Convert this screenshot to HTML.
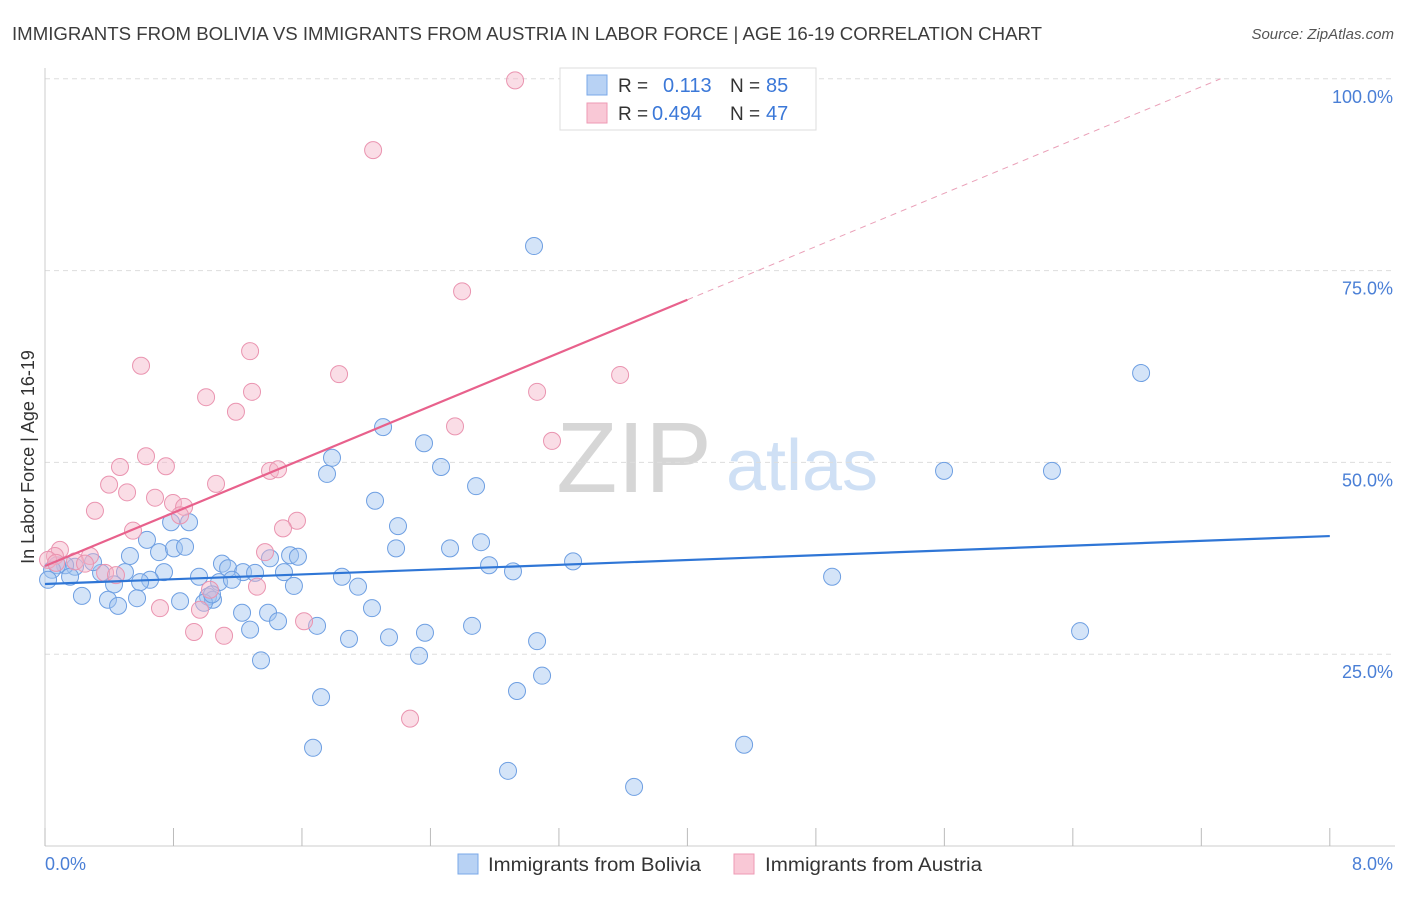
<!DOCTYPE html>
<html><head><meta charset="utf-8"><style>
body{margin:0;background:#fff;font-family:"Liberation Sans",sans-serif;}
svg text{font-family:"Liberation Sans",sans-serif;}
</style></head><body>
<svg id="chart" width="1406" height="892">
<text x="12" y="40" font-size="18" fill="#3c3c3c" textLength="1030" lengthAdjust="spacingAndGlyphs">IMMIGRANTS FROM BOLIVIA VS IMMIGRANTS FROM AUSTRIA IN LABOR FORCE | AGE 16-19 CORRELATION CHART</text>
<text x="1394" y="39" font-size="15" fill="#555" font-style="italic" text-anchor="end">Source: ZipAtlas.com</text>
<text x="634" y="492" font-size="100" fill="#d6d6d6" font-family="Liberation Serif" text-anchor="middle">ZIP</text>
<text x="802" y="490" font-size="72" fill="#cfe0f5" text-anchor="middle">atlas</text>
<g id="grid"></g><g id="pts"></g><g id="lines"></g>
<text x="34" y="457" font-size="18" fill="#333" transform="rotate(-90 34 457)" text-anchor="middle">In Labor Force | Age 16-19</text>
<text x="45" y="870" font-size="18" fill="#4a7fd6">0.0%</text>
<text x="1393" y="870" font-size="18" fill="#4a7fd6" text-anchor="end">8.0%</text>
<g>
<rect x="560" y="68" width="256" height="62" fill="#fff" stroke="#ddd"/>
<rect x="587" y="75" width="20" height="20" fill="#b8d2f4" stroke="#7aa8e8"/>
<rect x="587" y="103" width="20" height="20" fill="#f9c8d6" stroke="#ee9ab4"/>
<text x="618" y="92" font-size="19" fill="#333">R =</text>
<text x="663" y="92" font-size="20" fill="#3b78d8">0.113</text>
<text x="730" y="92" font-size="19" fill="#333">N =</text>
<text x="766" y="92" font-size="20" fill="#3b78d8">85</text>
<text x="618" y="120" font-size="19" fill="#333">R =</text>
<text x="652" y="120" font-size="20" fill="#3b78d8">0.494</text>
<text x="730" y="120" font-size="19" fill="#333">N =</text>
<text x="766" y="120" font-size="20" fill="#3b78d8">47</text>
</g>
<g>
<rect x="458" y="854" width="20" height="20" fill="#b8d2f4" stroke="#7aa8e8"/>
<text x="488" y="871" font-size="19" fill="#333" textLength="213" lengthAdjust="spacingAndGlyphs">Immigrants from Bolivia</text>
<rect x="734" y="854" width="20" height="20" fill="#f9c8d6" stroke="#ee9ab4"/>
<text x="765" y="871" font-size="19" fill="#333" textLength="217" lengthAdjust="spacingAndGlyphs">Immigrants from Austria</text>
</g>
</svg>
<script>
const yTicks=[25,50,75,100];
const blueX=[3.045,6.825,2.105,2.36,1.787,2.466,1.756,2.684,5.598,6.27,2.055,2.198,0.897,0.785,0.635,0.529,0.710,0.803,0.872,2.186,2.522,2.715,2.765,2.914,3.288,1.526,1.575,1.401,1.102,1.140,1.233,1.308,1.488,0.741,0.654,0.592,0.498,0.430,0.349,0.299,0.187,0.125,0.075,0.044,0.019,0.156,0.230,0.392,0.455,0.573,0.841,0.959,1.084,1.164,1.015,1.046,0.990,1.227,1.389,1.451,1.277,1.550,1.694,1.849,1.949,2.036,1.893,2.142,2.366,2.329,2.659,3.064,3.095,2.939,1.345,1.719,1.669,2.883,3.668,4.353,4.901,6.445,1.040];
const blueY=[78.2,61.65,54.6,52.5,50.6,49.4,48.5,46.9,48.9,48.9,45.0,41.7,42.2,42.2,39.9,37.8,38.3,38.8,39.0,38.8,38.8,39.6,36.6,35.8,37.1,37.9,37.7,37.5,36.8,36.2,35.7,35.6,35.7,35.7,34.7,34.4,35.7,34.1,35.6,37.0,36.4,36.6,36.6,36.0,34.7,35.1,32.6,32.1,31.3,32.3,31.9,35.1,34.4,34.7,32.5,32.1,31.7,30.4,30.4,29.3,28.2,33.9,28.7,35.1,33.8,31.0,27.0,27.2,27.8,24.8,28.7,26.7,22.2,20.2,24.2,19.4,12.8,9.8,7.7,13.2,35.1,28.0,32.8];
const pinkX=[2.927,2.043,2.597,1.277,0.598,1.831,3.581,1.289,1.003,1.189,3.064,2.553,3.157,0.629,0.467,0.753,0.399,0.511,0.685,1.065,0.797,0.866,0.841,0.311,1.401,1.451,1.569,1.482,0.548,1.370,0.280,0.093,0.062,0.187,0.249,0.019,0.374,0.442,1.320,0.716,0.965,1.613,0.928,1.115,2.273,1.027,0.069];
const pinkY=[99.8,90.7,72.3,64.5,62.6,61.5,61.4,59.2,58.5,56.6,59.2,54.7,52.8,50.8,49.4,49.5,47.1,46.1,45.4,47.2,44.7,44.2,43.1,43.7,48.9,49.1,42.4,41.4,41.1,38.3,37.8,38.6,37.8,37.1,36.8,37.3,35.6,35.3,33.8,31.0,30.8,29.3,27.9,27.4,16.6,33.4,36.9];
const blueLine=[34.15,40.4];
const pinkLine=[36.5,71.2,100];
const X=v=>45+v*160.6, Y=v=>846-v*7.672;
const NS="http://www.w3.org/2000/svg";
function mk(t,a,p){const e=document.createElementNS(NS,t);for(const k in a)e.setAttribute(k,a[k]);p.appendChild(e);return e;}
const grid=document.getElementById('grid');
yTicks.forEach(t=>{
 const l=mk('line',{x1:45,x2:1395,y1:Y(t),y2:Y(t),stroke:'#ddd','stroke-dasharray':'5,4'},grid);
 
 
 const tx=mk('text',{x:1393,y:Y(t)+24,'font-size':18,fill:'#4a7fd6','text-anchor':'end'},grid);
 tx.textContent=t.toFixed(1)+'%';
 
 
});
mk('line',{x1:45,x2:45,y1:68,y2:846,stroke:'#ccc'},grid);
mk('line',{x1:45,x2:1395,y1:846,y2:846,stroke:'#ccc'},grid);
for(let i=0;i<=10;i++){const t=mk('line',{x1:X(i*0.8),x2:X(i*0.8),y1:828,y2:846,stroke:'#bbb'},grid);
 
 }
const pts=document.getElementById('pts');
blueX.forEach((x,i)=>{const c=mk('circle',{cx:X(x),cy:Y(blueY[i]),r:8.5,fill:'rgba(160,195,240,0.45)',stroke:'#6e9fe2','stroke-width':1},pts);
 
 });
pinkX.forEach((x,i)=>{const c=mk('circle',{cx:X(x),cy:Y(pinkY[i]),r:8.5,fill:'rgba(245,180,200,0.45)',stroke:'#ea94b0','stroke-width':1},pts);
 
 });
const lines=document.getElementById('lines');
const bl=mk('line',{x1:X(0),y1:Y(blueLine[0]),x2:X(8),y2:Y(blueLine[1]),stroke:'#2f76d6','stroke-width':2.2},lines);


const pl=mk('line',{x1:X(0),y1:Y(pinkLine[0]),x2:X(4),y2:Y(pinkLine[1]),stroke:'#e8618c','stroke-width':2.2},lines);


const slope=(pinkLine[1]-pinkLine[0])/4, xEnd=(pinkLine[2]-pinkLine[0])/slope;
const pd=mk('line',{x1:X(4),y1:Y(pinkLine[1]),x2:X(xEnd),y2:Y(pinkLine[2]),stroke:'#eaa0b8','stroke-width':1,'stroke-dasharray':'6,5'},lines);


</script>
</body></html>
